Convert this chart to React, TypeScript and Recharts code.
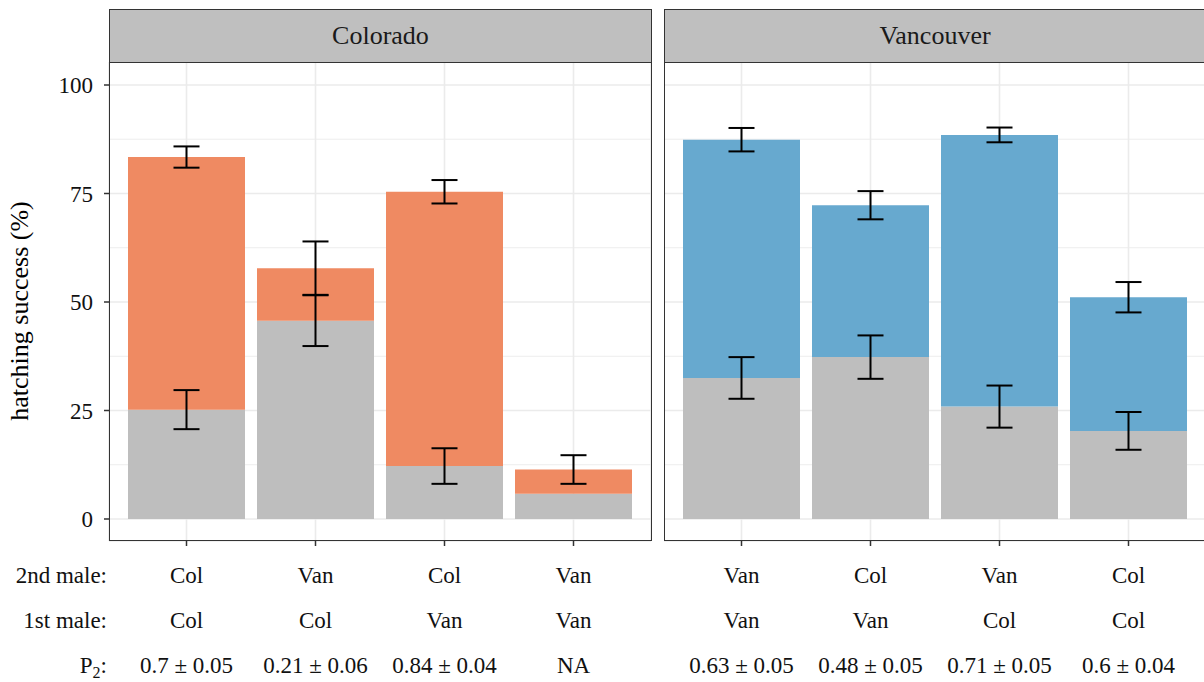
import {
  ComposedChart,
  Bar,
  Line,
  XAxis,
  YAxis,
  CartesianGrid,
  ErrorBar,
} from "recharts";

const FONT = "Liberation Serif, Times New Roman, serif";

// Colorado panel
const coloradoSecondMale = ["Col", "Van", "Col", "Van"];
const coloradoFirstMale = ["Col", "Col", "Van", "Van"];
const coloradoP2 = ["0.7 ± 0.05", "0.21 ± 0.06", "0.84 ± 0.04", "NA"];
const coloradoTotal = [83.4, 57.8, 75.4, 11.4];
const coloradoGray = [25.2, 45.7, 12.2, 5.8];
const coloradoTotalErr = [2.45, 6.15, 2.7, 3.3];
const coloradoGrayErr = [4.5, 5.85, 4.1, null];

// Vancouver panel
const vancouverSecondMale = ["Van", "Col", "Van", "Col"];
const vancouverFirstMale = ["Van", "Van", "Col", "Col"];
const vancouverP2 = ["0.63 ± 0.05", "0.48 ± 0.05", "0.71 ± 0.05", "0.6 ± 0.04"];
const vancouverTotal = [87.4, 72.3, 88.5, 51.1];
const vancouverGray = [32.5, 37.3, 25.9, 20.3];
const vancouverTotalErr = [2.7, 3.25, 1.7, 3.5];
const vancouverGrayErr = [4.8, 5.0, 4.85, 4.35];

const yTicks = [0, 25, 50, 75, 100];
const minorTicks = [12.5, 37.5, 62.5, 87.5];

const buildRows = (
  second: string[],
  first: string[],
  p2: string[],
  total: number[],
  gray: number[],
  totalErr: (number | null)[],
  grayErr: (number | null)[]
) =>
  second.map((s, i) => ({
    key: String(i),
    second: s,
    first: first[i],
    p2: p2[i],
    gray: gray[i],
    top: total[i] - gray[i],
    total: total[i],
    totalErr: totalErr[i],
    grayErr: grayErr[i],
  }));

const coloradoRows = buildRows(
  coloradoSecondMale,
  coloradoFirstMale,
  coloradoP2,
  coloradoTotal,
  coloradoGray,
  coloradoTotalErr,
  coloradoGrayErr
);
const vancouverRows = buildRows(
  vancouverSecondMale,
  vancouverFirstMale,
  vancouverP2,
  vancouverTotal,
  vancouverGray,
  vancouverTotalErr,
  vancouverGrayErr
);

const TEXT = { fontFamily: FONT, fontSize: 23, fill: "#111" };

const makeTick = (rows: any[]) => (props: any) => {
  const { x, y, payload } = props;
  const row = rows[Number(payload.value)];
  return (
    <g>
      <text x={x} y={y + 35} textAnchor="middle" style={TEXT}>
        {row.second}
      </text>
      <text x={x} y={y + 80} textAnchor="middle" style={TEXT}>
        {row.first}
      </text>
      <text x={x} y={y + 125} textAnchor="middle" style={TEXT}>
        {row.p2}
      </text>
    </g>
  );
};

function Panel({
  rows,
  color,
  width,
  showY,
}: {
  rows: any[];
  color: string;
  width: number;
  showY: boolean;
}) {
  return (
    <ComposedChart
      width={width}
      height={682}
      data={rows}
      barCategoryGap={6}
      margin={{ top: 62, right: width - (showY ? 651 : 542), bottom: 0, left: 0 }}
    >
      <CartesianGrid
        stroke="#ebebeb"
        strokeWidth={0.9}
        vertical={false}
        horizontalValues={minorTicks}
      />
      <CartesianGrid stroke="#ebebeb" strokeWidth={1.6} />
      <XAxis
        dataKey="key"
        height={141}
        padding={{ left: 13, right: 13 }}
        axisLine={false}
        tickLine={{ stroke: "#333", strokeWidth: 1.5 }}
        tickSize={5}
        interval={0}
        tick={makeTick(rows)}
      />
      <YAxis
        hide={!showY}
        width={109}
        domain={[-5.07, 105.3]}
        allowDataOverflow
        ticks={yTicks}
        axisLine={false}
        tickLine={{ stroke: "#333", strokeWidth: 1.5 }}
        tickSize={5}
        tickMargin={11}
        tick={{ fontFamily: FONT, fontSize: 23, fill: "#111" }}
      />
      <Bar dataKey="gray" stackId="a" fill="#bebebe" isAnimationActive={false} />
      <Bar dataKey="top" stackId="a" fill={color} isAnimationActive={false} />
      <Line
        dataKey="gray"
        stroke="none"
        dot={false}
        activeDot={false}
        isAnimationActive={false}
      >
        <ErrorBar dataKey="grayErr" width={13} stroke="#000" strokeWidth={2} />
      </Line>
      <Line
        dataKey="total"
        stroke="none"
        dot={false}
        activeDot={false}
        isAnimationActive={false}
      >
        <ErrorBar dataKey="totalErr" width={13} stroke="#000" strokeWidth={2} />
      </Line>
    </ComposedChart>
  );
}

const stripStyle = (left: number, width: number) => ({
  position: "absolute" as const,
  left,
  top: 9,
  width,
  height: 54,
  boxSizing: "border-box" as const,
  border: "1.6px solid #333",
  background: "#bfbfbf",
  fontFamily: FONT,
  fontSize: 26,
  color: "#1a1a1a",
  display: "flex",
  alignItems: "center",
  justifyContent: "center",
});

const frameStyle = (left: number, width: number) => ({
  position: "absolute" as const,
  left,
  top: 62,
  width,
  height: 479,
  boxSizing: "border-box" as const,
  border: "1.6px solid #333",
  pointerEvents: "none" as const,
});

export default function App() {
  return (
    <div
      style={{
        position: "absolute",
        left: 0,
        top: 0,
        width: 1204,
        height: 682,
        overflow: "hidden",
        background: "#fff",
        fontFamily: FONT,
      }}
    >
      <div style={{ position: "absolute", left: 0, top: 0 }}>
        <Panel rows={coloradoRows} color="#ef8a62" width={660} showY />
      </div>
      <div style={{ position: "absolute", left: 664, top: 0 }}>
        <Panel rows={vancouverRows} color="#67a9cf" width={560} showY={false} />
      </div>
      <div style={stripStyle(109, 543)}>Colorado</div>
      <div style={stripStyle(664, 542)}>Vancouver</div>
      <div style={frameStyle(109, 543)} />
      <div style={frameStyle(664, 542)} />
      <svg
        width={1204}
        height={682}
        style={{ position: "absolute", left: 0, top: 0, pointerEvents: "none" }}
      >
        <text
          transform="translate(28, 311) rotate(-90)"
          textAnchor="middle"
          style={{ fontFamily: FONT, fontSize: 26, fill: "#000" }}
        >
          hatching success (%)
        </text>
        <g style={TEXT}>
          <text x={107} y={583} textAnchor="end">
            2nd male:
          </text>
          <text x={107} y={628} textAnchor="end">
            1st male:
          </text>
          <text x={107} y={673} textAnchor="end">
            P<tspan dy={5} fontSize={16}>2</tspan>
            <tspan dy={-5}>:</tspan>
          </text>
        </g>
      </svg>
    </div>
  );
}
